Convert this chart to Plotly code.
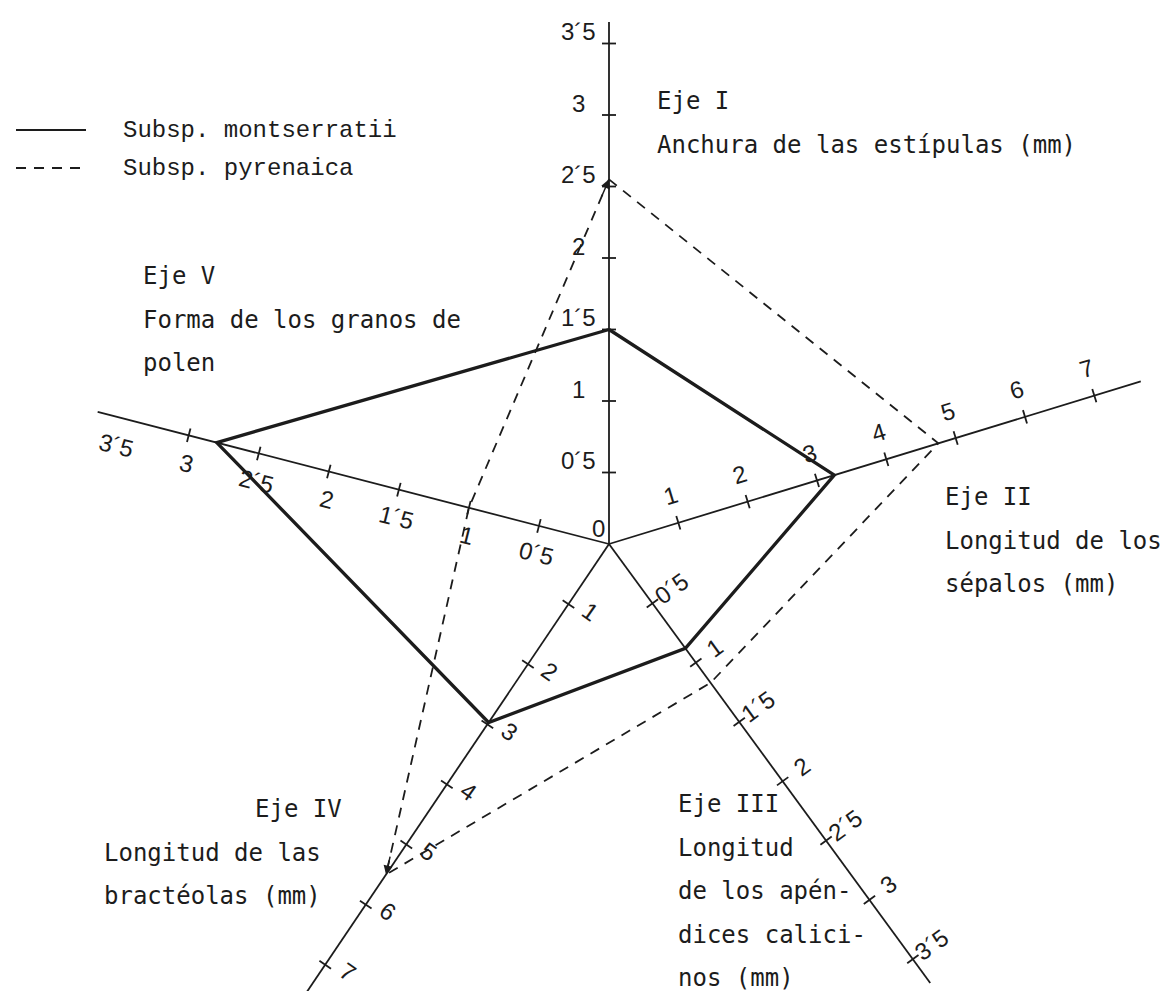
import numpy as np
import plotly.graph_objects as go

# five axes of the diagram
axis_names = ["I", "II", "III", "IV", "V"]
montserratii = [1.5, 3.25, 0.88, 2.97, 2.8]
pyrenaica = [2.55, 4.75, 1.17, 5.5, 1.0]

ticks_I = [0.5, 1, 1.5, 2, 2.5, 3, 3.5]
ticks_II = [1, 2, 3, 4, 5, 6, 7]
ticks_III = [0.5, 1, 1.5, 2, 2.5, 3, 3.5]
ticks_IV = [1, 2, 3, 4, 5, 6, 7]
ticks_V = [0.5, 1, 1.5, 2, 2.5, 3]
labels_V = [0.5, 1, 1.5, 2, 2.5, 3, 3.5]

titles = {
    "I": ["Eje I", "Anchura de las estípulas (mm)"],
    "II": ["Eje II", "Longitud de los", "sépalos (mm)"],
    "III": ["Eje III", "Longitud", "de los apén-", "dices calici-", "nos (mm)"],
    "IV": ["Eje IV", "Longitud de las", "bractéolas (mm)"],
    "V": ["Eje V", "Forma de los granos de", "polen"],
}

# geometry of the drawing (page pixels)
cx, cy = 601, 536
geo = {
    # angle (deg, ccw), px per unit, axis length in units
    "I": (90, 143, 3.65),
    "II": (17, 72.5, 7.67),
    "III": (-53.8, 147, 3.7),
    "IV": (-124, 72.5, 7.45),
    "V": (165.5, 144.7, 3.65),
}
label_off = {"I": (-31, -12), "II": (-8, -27), "III": (19, -15), "IV": (22, 7), "V": (-2, 28)}
label_rot = {"I": 0, "II": -17, "III": -36, "IV": 35, "V": 14}
title_pos = {"I": (647, 93), "II": (935, 489), "III": (668, 796), "IV": (94, 801), "V": (133, 268)}
title_first_x = {"IV": 245}


def pos(ax, v):
    ang, unit, _ = geo[ax]
    a = np.radians(ang)
    return cx + v * unit * np.cos(a), cy - v * unit * np.sin(a)


def fmt(v):
    if float(v).is_integer():
        return str(int(v))
    return f"{int(v)}´5"


fig = go.Figure()
ink = "#1c1c1c"

# axis lines
ax_x, ax_y = [], []
for ax in axis_names:
    x1, y1 = pos(ax, geo[ax][2])
    ax_x += [cx, x1, None]
    ax_y += [cy, y1, None]
fig.add_trace(go.Scatter(x=ax_x, y=ax_y, mode="lines", line=dict(color=ink, width=1.8), hoverinfo="skip"))

# tick marks
tick_sets = {"I": ticks_I, "II": ticks_II, "III": ticks_III, "IV": ticks_IV, "V": ticks_V}
label_sets = {"I": ticks_I, "II": ticks_II, "III": ticks_III, "IV": ticks_IV, "V": labels_V}
tx, ty = [], []
for ax in axis_names:
    a = np.radians(geo[ax][0])
    px, py = -np.sin(a), -np.cos(a)
    for v in tick_sets[ax]:
        x0, y0 = pos(ax, v)
        tx += [x0 - 7 * px, x0 + 7 * px, None]
        ty += [y0 - 7 * py, y0 + 7 * py, None]
fig.add_trace(go.Scatter(x=tx, y=ty, mode="lines", line=dict(color=ink, width=1.8), hoverinfo="skip"))

# polygons
for vals, dash, width in [(pyrenaica, "10px,8px", 1.8), (montserratii, "solid", 3.3)]:
    pts = [pos(ax, v) for ax, v in zip(axis_names, vals)]
    pts.append(pts[0])
    fig.add_trace(go.Scatter(x=[p[0] for p in pts], y=[p[1] for p in pts], mode="lines",
                             line=dict(color=ink, width=width, dash=dash), hoverinfo="skip"))

annotations = []

# arrow heads on the dashed line
for tip_ax, from_ax in [("IV", "V"), ("I", "V")]:
    i, j = axis_names.index(tip_ax), axis_names.index(from_ax)
    x0, y0 = pos(tip_ax, pyrenaica[i])
    x1, y1 = pos(from_ax, pyrenaica[j])
    d = np.hypot(x1 - x0, y1 - y0)
    annotations.append(dict(x=x0, y=y0, ax=x0 + (x1 - x0) * 20 / d, ay=y0 + (y1 - y0) * 20 / d,
                            xref="x", yref="y", axref="x", ayref="y", text="", showarrow=True,
                            arrowhead=2, arrowsize=1.2, arrowwidth=1.5, arrowcolor=ink))

# tick labels
num_font = dict(family="Liberation Sans, Arial", size=24, color=ink)
for ax in axis_names:
    dx, dy = label_off[ax]
    for v in label_sets[ax]:
        x0, y0 = pos(ax, v)
        annotations.append(dict(x=x0 + dx, y=y0 + dy, text=fmt(v), showarrow=False, xref="x", yref="y",
                                textangle=label_rot[ax], font=num_font))
annotations.append(dict(x=cx - 11, y=cy - 16, text="0", showarrow=False, xref="x", yref="y", font=num_font))

# axis titles
title_font = dict(family="DejaVu Sans Mono", size=24, color=ink)
for ax in axis_names:
    x0, y0 = title_pos[ax]
    for k, line in enumerate(titles[ax]):
        xl = title_first_x.get(ax, x0) if k == 0 else x0
        annotations.append(dict(x=xl, y=y0 + 43.5 * k, text=line, showarrow=False, xref="x", yref="y",
                                xanchor="left", yanchor="middle", font=title_font))

# legend drawn by hand
legend_names = ["Subsp. montserratii", "Subsp. pyrenaica"]
legend_dash = ["solid", "10px,8px"]
legend_y = [122, 160]
for name, dash, ly in zip(legend_names, legend_dash, legend_y):
    fig.add_trace(go.Scatter(x=[8, 78], y=[ly, ly], mode="lines", line=dict(color=ink, width=1.8, dash=dash),
                             hoverinfo="skip"))
    annotations.append(dict(x=113, y=ly, text=name, showarrow=False, xref="x", yref="y",
                            xanchor="left", yanchor="middle",
                            font=dict(family="Liberation Mono", size=24, color=ink)))

fig.update_layout(
    width=1174, height=991,
    margin=dict(l=0, r=0, t=0, b=0),
    paper_bgcolor="white", plot_bgcolor="white",
    showlegend=False,
    xaxis=dict(range=[0, 1174], visible=False, fixedrange=True),
    yaxis=dict(range=[991, 0], visible=False, fixedrange=True),
    annotations=annotations,
)

fig.write_html("out.html")
